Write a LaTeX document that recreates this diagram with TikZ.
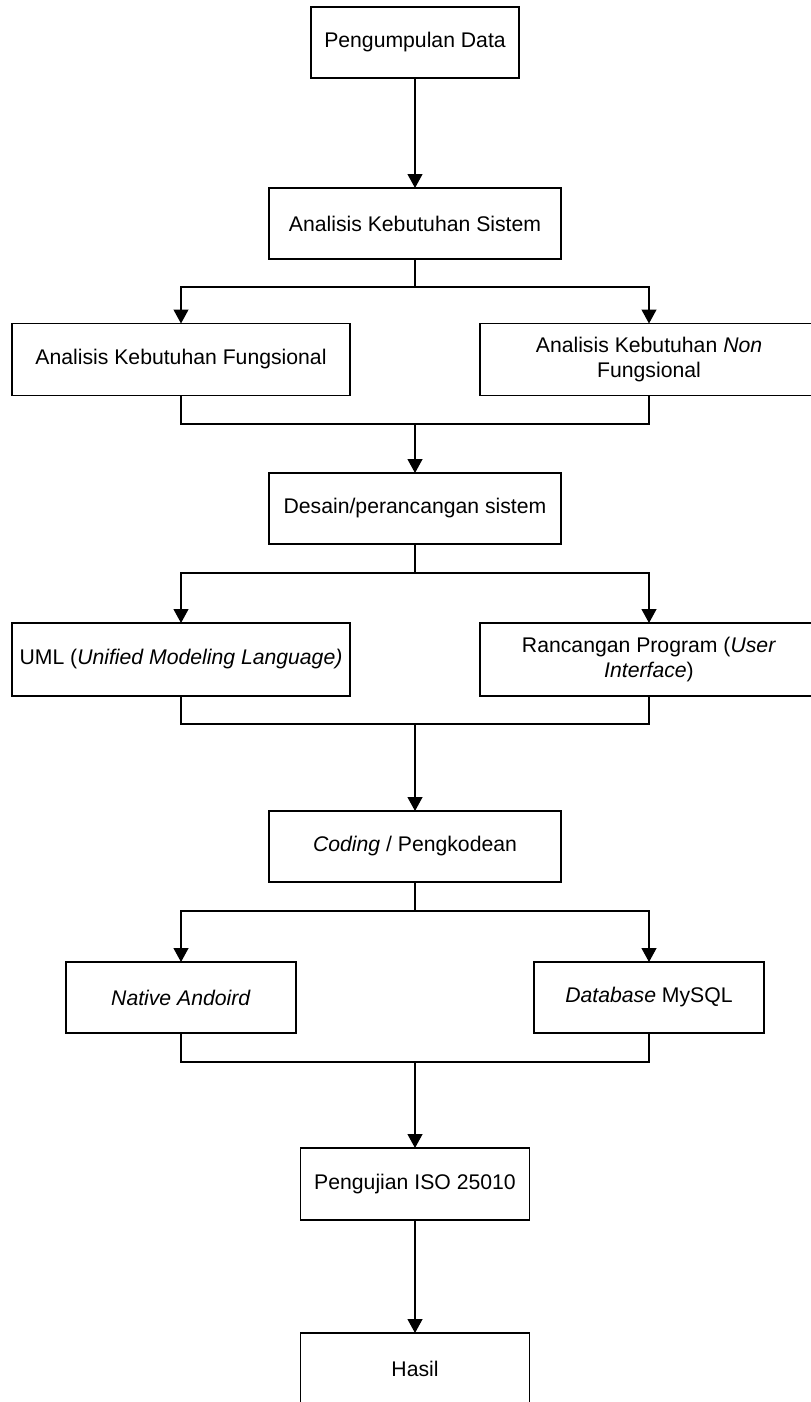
\documentclass[tikz,border=0pt]{standalone}
\usepackage{fontspec}
\setmainfont{Liberation Sans}
\usetikzlibrary{arrows.meta}
\begin{document}
\begin{tikzpicture}[x=0.5pt,y=-0.5pt,
  box/.style={draw=black, line width=0.6pt, fill=white, inner sep=0pt, outer sep=0pt,
    align=center, font=\fontsize{10.6}{12.5}\selectfont},
  line/.style={draw=black, line width=0.6pt},
  arr/.style={line, -{Triangle[length=7pt,width=7.5pt]}}]
\useasboundingbox (0,0) rectangle (810,1402);
% nodes
\node[box, minimum width=104pt, minimum height=35.5pt] (p) at (415,42.5) {Pengumpulan Data};
\node[box, minimum width=146pt, minimum height=35.5pt] (aks) at (415,223.5) {Analisis Kebutuhan Sistem};
\node[box, minimum width=169pt, minimum height=36pt] (f) at (181,359.5) {Analisis Kebutuhan Fungsional};
\node[box, minimum width=169pt, minimum height=36pt] (nf) at (649,359.5) {Analisis Kebutuhan \textit{Non}\\Fungsional};
\node[box, minimum width=146pt, minimum height=35.5pt] (d) at (415,508.5) {Desain/perancangan sistem};
\node[box, minimum width=169pt, minimum height=36.5pt] (uml) at (181,659.5) {UML (\textit{Unified Modeling Language)}};
\node[box, minimum width=169pt, minimum height=36.5pt] (rp) at (649,659.5) {Rancangan Program (\textit{User}\\\textit{Interface})};
\node[box, minimum width=146pt, minimum height=35.5pt] (c) at (415,846.5) {\textit{Coding} / Pengkodean};
\node[box, minimum width=115pt, minimum height=35.5pt] (na) at (181,997.5) {\textit{Native Andoird}};
\node[box, minimum width=115pt, minimum height=35.5pt] (db) at (649,997.5) {\textit{Database} MySQL};
\node[box, minimum width=114.5pt, minimum height=36pt] (pi) at (415,1184) {Pengujian ISO 25010};
\node[box, minimum width=114.5pt, minimum height=36pt] (h) at (415,1369) {Hasil};
% junctions
\coordinate (j1) at (415,287);
\coordinate (j2) at (415,424);
\coordinate (j3) at (415,573);
\coordinate (j4) at (415,724);
\coordinate (j5) at (415,911);
\coordinate (j6) at (415,1062);
% connectors
\draw[arr] (p.south) -- (aks.north);
\draw[line] (aks.south) -- (j1);
\draw[arr] (j1) -| (f.north);
\draw[arr] (j1) -| (nf.north);
\draw[line] (f.south) |- (j2) -| (nf.south);
\draw[arr] (j2) -- (d.north);
\draw[line] (d.south) -- (j3);
\draw[arr] (j3) -| (uml.north);
\draw[arr] (j3) -| (rp.north);
\draw[line] (uml.south) |- (j4) -| (rp.south);
\draw[arr] (j4) -- (c.north);
\draw[line] (c.south) -- (j5);
\draw[arr] (j5) -| (na.north);
\draw[arr] (j5) -| (db.north);
\draw[line] (na.south) |- (j6) -| (db.south);
\draw[arr] (j6) -- (pi.north);
\draw[arr] (pi.south) -- (h.north);
\end{tikzpicture}
\end{document}
